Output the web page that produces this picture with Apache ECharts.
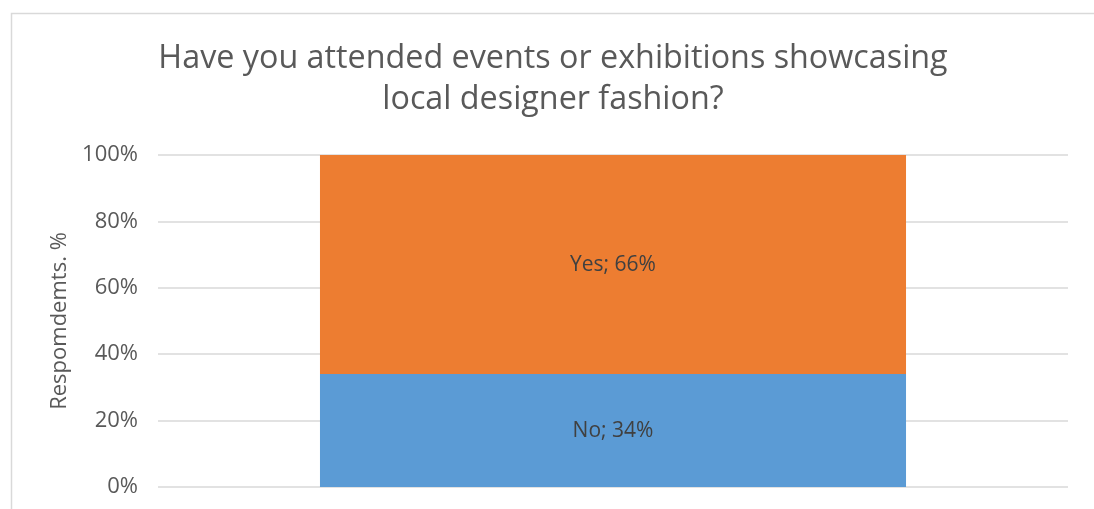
<!DOCTYPE html>
<html>
<head>
<meta charset="utf-8">
<script src="https://cdn.jsdelivr.net/npm/echarts@6/dist/echarts.min.js"></script>
<style>
html,body{margin:0;padding:0;background:#fff;}
#c{width:1094px;height:509px;}
</style>
</head>
<body>
<div id="c"></div>
<script>
const categories = [''];
const seriesNames = ['No', 'Yes'];
const noValues = [34];
const yesValues = [66];
const yTicks = [0, 20, 40, 60, 80, 100];
const titleText = 'Have you attended events or exhibitions showcasing\nlocal designer fashion?';
const yAxisName = 'Respomdemts. %';

const chart = echarts.init(document.getElementById('c'));
const font = 'Open Sans';
chart.setOption({
  animation: false,
  backgroundColor: '#ffffff',
  graphic: [{
    type: 'rect', left: 9, top: 11, silent: true,
    shape: { width: 1200, height: 600 },
    style: { fill: 'none', stroke: '#D9D9D9', lineWidth: 1.5 }
  }],
  title: {
    text: titleText,
    left: 548, top: 33, textAlign: 'center',
    textStyle: { fontFamily: font, fontSize: 32.3, fontWeight: 'normal', color: '#595959', lineHeight: 41 }
  },
  grid: { left: 158, right: 26, top: 155, bottom: 22, containLabel: false },
  xAxis: {
    type: 'category', data: categories,
    axisLine: { show: false }, axisTick: { show: false }, axisLabel: { show: false }
  },
  yAxis: {
    type: 'value', min: 0, max: 100, interval: 20,
    name: yAxisName, nameLocation: 'middle', nameRotate: 90, nameGap: 76,
    nameTextStyle: { fontFamily: font, fontSize: 22, color: '#595959' },
    axisLine: { show: false }, axisTick: { show: false },
    axisLabel: { fontFamily: font, fontSize: 22, color: '#595959', margin: 20,
      formatter: v => yTicks.includes(v) ? v + '%' : '' },
    splitLine: { lineStyle: { color: '#D9D9D9', width: 1.5 } }
  },
  series: [
    { name: seriesNames[0], type: 'bar', stack: 's', data: noValues, barWidth: '64.4%',
      itemStyle: { color: '#5B9BD5' },
      label: { show: true, position: 'inside', formatter: '{a}; {c}%', fontFamily: font, fontSize: 21, color: '#404040' } },
    { name: seriesNames[1], type: 'bar', stack: 's', data: yesValues, barWidth: '64.4%',
      itemStyle: { color: '#ED7D31' },
      label: { show: true, position: 'inside', formatter: '{a}; {c}%', fontFamily: font, fontSize: 21, color: '#404040' } }
  ]
});
</script>
</body>
</html>
